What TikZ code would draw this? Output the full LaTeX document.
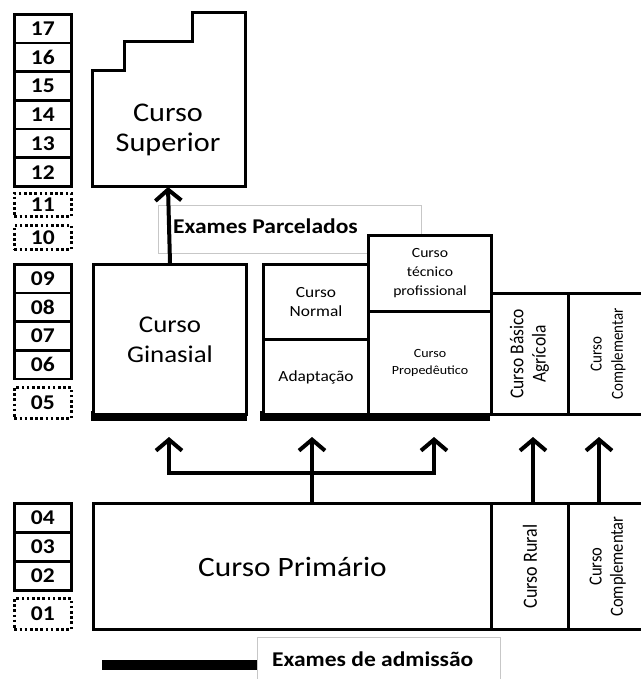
\documentclass[tikz,border=0pt]{standalone}
\usepackage{fontspec}
\setmainfont{Carlito}[FakeStretch=1.12]
\newfontfamily\rotfont{Carlito}
\usetikzlibrary{arrows.meta}
\newcommand\fsz[2]{\fontsize{#1}{#2}\selectfont}
\newcommand\vtext[1]{\scalebox{1.12}[1]{\rotatebox{90}{#1}}}
\begin{document}
\begin{tikzpicture}[x=1pt,y=-1pt,
  box/.style={draw, line width=3pt, fill=white, inner sep=0pt, align=center},
  num/.style={draw, line width=2.6pt, fill=white, inner sep=0pt,
    minimum width=57pt, anchor=north west, font=\bfseries\fsz{21}{24}},
  dnum/.style={num, dash pattern=on 2.6pt off 2.6pt},
  exbox/.style={draw=black!22, line width=0.9pt, fill=white, inner sep=0pt},
  extext/.style={anchor=west, inner sep=0pt, font=\bfseries\fsz{21}{24}},
  arr/.style={line width=4pt, -{Straight Barb[length=11pt,width=26pt]}},
  bar/.style={fill=black}
]
\useasboundingbox (0,0) rectangle (640,679);

% year column
\foreach \n/\y in {17/13,16/41.7,15/70.4,14/99.1,13/127.8,12/156.5}
  \node[num, minimum height=28.7pt] (n\n) at (13,\y) {\n};
\node[dnum, minimum height=23pt] (n11) at (13,192) {11};
\node[dnum, minimum height=24pt] (n10) at (13,224) {10};
\foreach \n/\y in {09/263,08/291.7,07/320.4,06/349.1}
  \node[num, minimum height=28.7pt] (n\n) at (13,\y) {\n};
\node[dnum, minimum height=31pt] (n05) at (13,386) {05};
\foreach \n/\y in {04/502,03/531,02/560}
  \node[num, minimum height=29pt] (n\n) at (13,\y) {\n};
\node[dnum, minimum height=31pt] (n01) at (13,597) {01};

% exames parcelados label box (behind the course boxes)
\node[exbox, minimum width=263pt, minimum height=48pt, anchor=north west] (ep) at (158,205) {};
\node[extext] (ept) at (173,229) {Exames Parcelados\strut};

% curso superior (stepped outline)
\draw[line width=3pt, fill=white, line join=miter]
  (92,71) -- (124,71) -- (124,42) -- (192,42) -- (192,13) -- (245,13)
  -- (245,186) -- (92,186) -- cycle;
\node[align=center, font=\fsz{27}{30}] (sup) at (168,130) {Curso\\Superior};
\coordinate (supb) at (168,187);

% secondary level
\fill (91,411) rectangle (247,421);
\fill (260,411) rectangle (490,421);
\node[box, minimum width=153pt, minimum height=150pt, anchor=north west,
  font=\fsz{24}{30}] (gin) at (92,263) {Curso\\Ginasial};
\node[box, minimum width=105pt, minimum height=75pt, anchor=north west,
  font=\fsz{15.5}{19}] (nor) at (262,263) {Curso\\Normal};
\node[box, minimum width=105pt, minimum height=75pt, anchor=north west,
  font=\fsz{15.5}{19}] (ada) at (262,338) {Adaptação};
\node[box, minimum width=123pt, minimum height=76pt, anchor=north west,
  font=\fsz{14}{19}] (tec) at (367,234) {Curso\\técnico\\profissional};
\node[box, minimum width=123pt, minimum height=103pt, anchor=north west,
  font=\fsz{12.5}{17}] (pro) at (367,310) {Curso\\Propedêutico};
\node[box, minimum width=77pt, minimum height=121pt, anchor=north west,
  font=\rotfont\fsz{17.5}{20}] (bas) at (490,292)
  {\vtext{\begin{tabular}{@{}c@{}}Curso Básico\\Agrícola\end{tabular}}};
\node[box, minimum width=83pt, minimum height=121pt, anchor=north west,
  font=\rotfont\fsz{15}{19}] (com1) at (567,292)
  {\hspace*{-4pt}\vtext{\begin{tabular}{@{}c@{}}Curso\\Complementar\end{tabular}}};

% primary level
\node[box, minimum width=398pt, minimum height=126pt, anchor=north west,
  font=\fsz{28}{32}] (pri) at (92,502) {Curso Primário};
\node[box, minimum width=77pt, minimum height=126pt, anchor=north west,
  font=\rotfont\fsz{18}{20}] (rur) at (490,502) {\vtext{Curso Rural}};
\node[box, minimum width=83pt, minimum height=126pt, anchor=north west,
  font=\rotfont\fsz{16.5}{19}] (com2) at (567,502)
  {\hspace*{-4pt}\vtext{\begin{tabular}{@{}c@{}}Curso\\Complementar\end{tabular}}};

% connectors
\draw[arr] (gin.north) -- (supb);
\coordinate (tl) at (169,437);
\coordinate (tm) at (312,437);
\coordinate (tr) at (434,437);
\coordinate (hl) at (169,473);
\coordinate (hr) at (434,473);
\coordinate (tru) at (533,437);
\coordinate (tco) at (599,437);
\draw[arr] (tm |- pri.north) -- (tm);
\draw[arr] (hr) -- (hl) -- (tl);
\draw[arr] (hl) -- (hr) -- (tr);
\draw[arr] (tru |- rur.north) -- (tru);
\draw[arr] (tco |- com2.north) -- (tco);

% exames de admissao legend
\node[exbox, minimum width=243pt, minimum height=52pt, anchor=north west] (ea) at (257,637) {};
\node[extext] (eat) at (272,662) {Exames de admissão\strut};
\fill[bar] (102,660) rectangle (ea.west |- 0,670);
\end{tikzpicture}
\end{document}
